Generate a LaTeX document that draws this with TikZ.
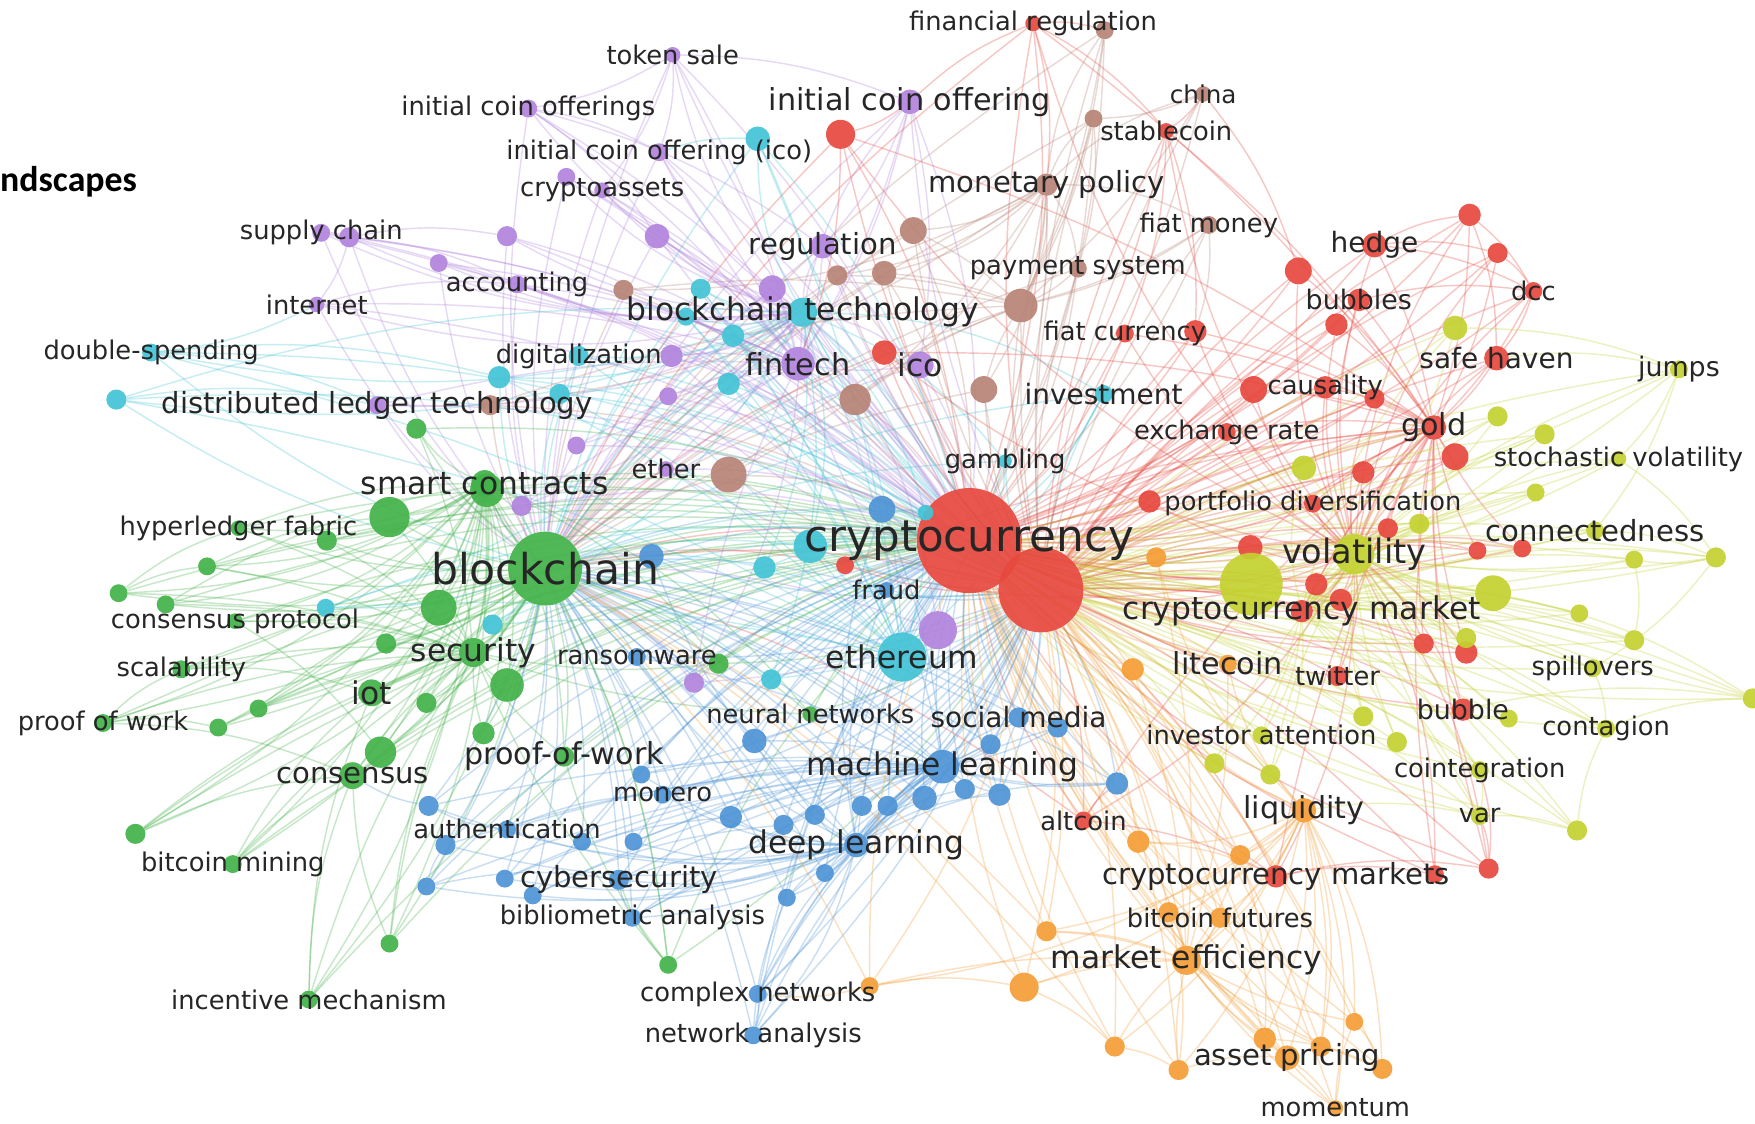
\documentclass[tikz,border=0pt]{standalone}
\usepackage{fontspec}
\setmainfont{DejaVu Sans}
\newfontfamily\headfont{Carlito}
\usetikzlibrary{positioning}
\pgfdeclarelayer{bg}
\pgfdeclarelayer{fg}
\pgfsetlayers{bg,main,fg}

\definecolor{cred}{RGB}{231,72,62}
\definecolor{cbrown}{RGB}{183,132,118}
\definecolor{cpurple}{RGB}{178,132,222}
\definecolor{ccyan}{RGB}{67,196,214}
\definecolor{cgreen}{RGB}{67,178,73}
\definecolor{cblue}{RGB}{78,148,214}
\definecolor{corange}{RGB}{245,158,54}
\definecolor{cyellow}{RGB}{196,210,48}

\tikzset{
  kw/.style={circle, fill=#1, draw=none, inner sep=0pt, opacity=0.92},
  lbl/.style={text=black!85, inner sep=0pt, font=\fontsize{#1}{#1}\selectfont},
  edge/.style={draw=#1, line width=1.3pt, opacity=0.3},
}

% cluster hubs
\def\hubA{crypto}\def\hubB{btc}\def\hubC{blockchain}
\def\hubcpurple{fintech}\def\hubccyan{ethereum}\def\hubcgreen{security}
\def\hubcblue{ml}\def\hubcred{gold}\def\hubcbrown{w6}
\def\hubcorange{mefficiency}\def\hubcyellow{volatility}
\def\subcpurple{bctech}\def\subccyan{bctech}\def\subcgreen{smartcontracts}
\def\subcblue{deeplearning}\def\subcred{volatility}\def\subcbrown{monetary}
\def\subcorange{liquidity}\def\subcyellow{cmarket}

\newcommand\hublinks[3]{%
  \edef\cur{#1}%
  \ifx\cur\hubA\else\draw[edge=#3] (#1) to[bend left=12] (crypto);\fi
  \ifdim #2pt>560pt \ifx\cur\hubB\else\draw[edge=#3] (#1) to[bend right=10] (btc);\fi\fi
  \ifdim #2pt<1000pt \ifx\cur\hubC\else\draw[edge=#3] (#1) to[bend right=10] (blockchain);\fi\fi
  \edef\hubD{\csname hub#3\endcsname}%
  \ifx\cur\hubD\else\draw[edge=#3] (#1) to[bend left=8] (\hubD);\fi
  \edef\hubE{\csname sub#3\endcsname}%
  \ifx\cur\hubE\else\draw[edge=#3] (#1) to[bend right=14] (\hubE);\fi}

% keywords: name/x/y/colour/size/label/font size
\def\kwlist{%
  tokensale/601/49/cpurple/14/token sale/23,
  icos/472/97/cpurple/16/initial coin offerings/23,
  ico1/813/91/cpurple/22/initial coin offering/27,
  icoico/589/136/cpurple/16/initial coin offering (ico)/23,
  cryptoassets/538/170/cpurple/14/cryptoassets/23,
  supplychain/287/208/cpurple/16/supply chain/23,
  accounting/462/254/cpurple/16/accounting/23,
  internet/283/272/cpurple/14/internet/23,
  regulation/735/220/cpurple/22/regulation/26,
  fintech/713/325/cpurple/30/fintech/27,
  ico/822/326/cpurple/24/ico/28,
  digitalization/517/318/ccyan/18/digitalization/23,
  ether/595/419/cpurple/14/ether/23,
  dlt/337/362/cpurple/16/distributed ledger technology/26,
  doublespend/135/315/ccyan/16/double-spending/23,
  bctech/717/279/ccyan/26/blockchain technology/28,
  ethereum/806/587/ccyan/44/ethereum/28,
  gambling/898/412/ccyan/12/gambling/23,
  investment/986/352/ccyan/16/investment/25,
  blockchain/487/508/cgreen/66/blockchain/38,
  smartcontracts/433/432/cgreen/24/smart contracts/28,
  hyperledger/213/472/cgreen/14/hyperledger fabric/23,
  consprotocol/210/555/cgreen/14/consensus protocol/23,
  security/423/583/cgreen/26/security/28,
  scalability/162/598/cgreen/16/scalability/23,
  iot/332/619/cgreen/24/iot/28,
  proofofwork/92/646/cgreen/16/proof of work/23,
  consensus/315/693/cgreen/24/consensus/26,
  pow/504/676/cgreen/18/proof-of-work/27,
  bitcoinmining/208/772/cgreen/16/bitcoin mining/23,
  incentive/276/893/cgreen/16/incentive mechanism/23,
  neural/724/638/cgreen/14/neural networks/23,
  ransomware/569/587/cblue/16/ransomware/23,
  ml/842/685/cblue/30/machine learning/28,
  socialmedia/910/641/cblue/18/social media/25,
  monero/592/710/cblue/16/monero/23,
  auth/453/741/cblue/16/authentication/23,
  deeplearning/765/755/cblue/22/deep learning/28,
  cyber/553/786/cblue/18/cybersecurity/26,
  biblio/565/820/cblue/16/bibliometric analysis/23,
  complexnet/677/888/cblue/16/complex networks/23,
  netanalysis/673/925/cblue/16/network analysis/23,
  fraud/792/527/cblue/14/fraud/23,
  crypto/866/483/cred/94/cryptocurrency/39,
  finreg/923/21/cred/14/financial regulation/23,
  stablecoin/1042/117/cred/14/stablecoin/23,
  hedge/1228/219/cred/22/hedge/25,
  bubbles/1214/268/cred/20/bubbles/24,
  dcc/1370/260/cred/16/dcc/23,
  fiatcurrency/1005/298/cred/16/fiat currency/23,
  safehaven/1337/320/cred/22/safe haven/25,
  causality/1184/346/cred/20/causality/23,
  exchangerate/1096/386/cred/16/exchange rate/23,
  gold/1281/382/cred/22/gold/27,
  portfolio/1173/450/cred/16/portfolio diversification/23,
  twitter/1195/604/cred/18/twitter/23,
  bubble/1307/634/cred/20/bubble/24,
  altcoin/968/733/cred/16/altcoin/23,
  cmarkets/1140/783/cred/20/cryptocurrency markets/26,
  cmarket/1163/546/cred/20/cryptocurrency market/28,
  china/1075/84/cbrown/14/china/22,
  monetary/935/165/cbrown/20/monetary policy/26,
  fiatmoney/1080/201/cbrown/16/fiat money/23,
  payment/963/240/cbrown/16/payment system/23,
  litecoin/1097/593/corange/16/litecoin/27,
  liquidity/1165/724/corange/22/liquidity/27,
  mefficiency/1060/858/corange/26/market efficiency/28,
  bfutures/1090/820/corange/18/bitcoin futures/23,
  assetpricing/1150/945/corange/22/asset pricing/26,
  momentum/1193/990/corange/14/momentum/23,
  volatility/1210/495/cyellow/36/volatility/30,
  stochvol/1446/410/cyellow/14/stochastic volatility/23,
  connectedness/1425/474/cyellow/16/connectedness/26,
  jumps/1500/330/cyellow/16/jumps/24,
  spillovers/1423/597/cyellow/16/spillovers/23,
  contagion/1435/651/cyellow/16/contagion/23,
  investorattn/1127/657/cyellow/16/investor attention/23,
  cointegration/1322/688/cyellow/16/cointegration/23,
  var/1322/729/cyellow/16/var/23}

% keywords whose labels are hidden: name/x/y/colour/size
\def\dotlist{%
  r1/751/120/cred/26, btc/930/527/cred/76, r2/790/315/cred/22, r3/1068/296/cred/20,
  r4/1160/242/cred/24, r5/1194/290/cred/20, r6/1313/192/cred/20, r7/1338/226/cred/18,
  r8/1120/348/cred/24, r9/1228/356/cred/18, r10/1027/448/cred/20, r11/1117/489/cred/22,
  r12/1176/522/cred/20, r13/1218/422/cred/20, r14/1300/408/cred/24, r15/1240/472/cred/18,
  r16/1320/492/cred/16, r17/1360/490/cred/16, r18/1272/575/cred/18, r19/1310/583/cred/20,
  r20/1330/776/cred/18, r21/1282/781/cred/16, r22/755/505/cred/16, r23/1198/536/cred/20,
  w1/987/27/cbrown/16, w2/977/106/cbrown/16, w3/816/206/cbrown/24, w4/790/244/cbrown/22,
  w5/748/246/cbrown/18, w6/912/273/cbrown/30, w7/764/357/cbrown/28, w8/879/348/cbrown/24,
  w9/438/362/cbrown/18, w10/651/424/cbrown/32, w11/557/259/cbrown/18,
  c1/104/357/ccyan/18, c2/677/124/ccyan/22, c3/626/258/ccyan/18, c4/655/300/ccyan/20,
  c5/651/343/ccyan/20, c6/446/337/ccyan/20, c7/500/352/ccyan/18, c8/683/507/ccyan/20,
  c9/724/488/ccyan/30, c10/440/558/ccyan/18, c11/291/543/ccyan/16, c12/689/607/ccyan/18,
  c13/827/458/ccyan/14, c14/613/283/ccyan/16,
  p1/453/211/cpurple/18, p2/392/235/cpurple/16, p3/587/211/cpurple/22, p4/506/158/cpurple/16,
  p5/690/258/cpurple/24, p6/597/354/cpurple/16, p7/515/398/cpurple/16, p8/466/452/cpurple/18,
  p9/620/610/cpurple/18, p10/838/563/cpurple/34, p11/600/318/cpurple/20, p12/312/212/cpurple/18,
  g1/372/383/cgreen/18, g2/348/462/cgreen/36, g3/292/483/cgreen/18, g4/185/506/cgreen/16,
  g5/106/530/cgreen/16, g6/148/540/cgreen/16, g7/392/543/cgreen/32, g8/345/575/cgreen/18,
  g9/381/628/cgreen/18, g10/432/655/cgreen/20, g11/453/612/cgreen/30, g12/231/633/cgreen/16,
  g13/195/650/cgreen/16, g14/121/745/cgreen/18, g15/348/843/cgreen/16, g16/597/862/cgreen/16,
  g17/642/593/cgreen/18, g18/435/438/cgreen/30, g19/340/672/cgreen/28,
  b1/383/720/cblue/18, b2/398/755/cblue/18, b3/381/792/cblue/16, b4/451/785/cblue/16,
  b5/476/800/cblue/16, b6/520/752/cblue/16, b7/566/752/cblue/16, b8/573/692/cblue/16,
  b9/653/730/cblue/20, b10/674/662/cblue/22, b11/700/737/cblue/18, b12/728/728/cblue/18,
  b13/770/720/cblue/18, b14/793/720/cblue/18, b15/826/713/cblue/22, b16/862/705/cblue/18,
  b17/893/710/cblue/20, b18/885/665/cblue/18, b19/945/650/cblue/18, b20/998/700/cblue/20,
  b21/703/802/cblue/16, b22/737/780/cblue/16, b23/788/455/cblue/24, b24/582/497/cblue/22,
  o1/1012/598/corange/20, o2/1033/498/corange/18, o3/1017/752/corange/20, o4/1108/764/corange/18,
  o5/1044/815/corange/18, o6/935/832/corange/18, o7/915/882/corange/26, o8/777/881/corange/16,
  o9/996/935/corange/18, o10/1053/956/corange/18, o11/1130/928/corange/20, o12/1180/935/corange/18,
  o13/1210/913/corange/16, o14/1235/955/corange/18,
  y1/1300/293/cyellow/22, y2/1165/418/cyellow/22, y3/1338/372/cyellow/18, y4/1380/388/cyellow/18,
  y5/1334/530/cyellow/32, y6/1310/570/cyellow/18, y7/1372/440/cyellow/16, y8/1460/500/cyellow/16,
  y9/1533/498/cyellow/18, y10/1411/548/cyellow/16, y11/1460/572/cyellow/18, y12/1218/640/cyellow/18,
  y13/1248/663/cyellow/18, y14/1348/642/cyellow/16, y15/1135/692/cyellow/18, y16/1085/682/cyellow/18,
  y17/1409/742/cyellow/18, y18/1566/624/cyellow/18, y19/1118/522/cyellow/56, y20/1268/468/cyellow/18}

\begin{document}
\begin{tikzpicture}[x=1pt, y=-1pt]
  \useasboundingbox (0,0) rectangle (1568,1004);

  % circles
  \foreach \nm/\px/\py/\col/\dm/\txt/\fs in \kwlist
    \node[kw=\col, minimum size=\dm] (\nm) at (\px,\py) {};
  \foreach \nm/\px/\py/\col/\dm in \dotlist
    \node[kw=\col, minimum size=\dm] (\nm) at (\px,\py) {};

  % links
  \begin{pgfonlayer}{bg}
    \fill[white] (0,0) rectangle (1568,1004);
    \foreach \nm/\px/\py/\col/\dm/\txt/\fs in \kwlist {\hublinks{\nm}{\px}{\col}}
    \foreach \nm/\px/\py/\col/\dm in \dotlist {\hublinks{\nm}{\px}{\col}}
    \foreach \a/\b/\col in {
      tokensale/icos/cpurple, tokensale/icoico/cpurple, tokensale/cryptoassets/cpurple,
      tokensale/ico1/cpurple, icos/icoico/cpurple, icos/p3/cpurple, icos/regulation/cpurple,
      ico1/finreg/cred, ico1/r1/cred, ico1/regulation/cpurple, ico1/ico/cpurple,
      ico1/fintech/cpurple, icoico/c2/ccyan, r1/fintech/cred,
      supplychain/p12/cpurple, p12/p1/cpurple, p12/internet/cpurple, p12/accounting/cpurple,
      internet/accounting/cpurple, internet/doublespend/ccyan, doublespend/dlt/ccyan,
      c1/dlt/ccyan, c1/bctech/ccyan, doublespend/c6/ccyan,
      finreg/stablecoin/cred, finreg/w1/cred, finreg/monetary/cred, china/stablecoin/cred,
      china/w2/cbrown, china/r4/cred, w1/w6/cbrown, stablecoin/fiatcurrency/cred,
      stablecoin/r3/cred, w2/payment/cbrown, fiatmoney/w6/cbrown, fiatmoney/r3/cbrown,
      hedge/r6/cred, hedge/r7/cred, r6/dcc/cred, r7/dcc/cred, r6/safehaven/cred,
      dcc/safehaven/cred, hedge/dcc/cred, bubbles/dcc/cred, safehaven/jumps/cyellow,
      y1/jumps/cyellow, jumps/stochvol/cyellow, jumps/connectedness/cyellow,
      stochvol/y9/cyellow, connectedness/y9/cyellow, y9/y8/cyellow, y9/spillovers/cyellow,
      y8/y11/cyellow, spillovers/contagion/cyellow, contagion/y18/cyellow,
      y17/contagion/cyellow, bubble/y18/cyellow, y5/y18/cyellow, cointegration/var/cyellow,
      var/y17/cyellow, liquidity/var/cyellow, cointegration/r20/cred, var/r20/cred,
      cmarkets/r20/cred, cmarkets/r21/cred,
      mefficiency/assetpricing/corange, assetpricing/momentum/corange, momentum/o13/corange,
      o13/o14/corange, o11/o14/corange, o9/o10/corange, o10/assetpricing/corange,
      o7/o9/corange, o8/o7/corange, bfutures/mefficiency/corange, altcoin/cmarkets/cred,
      o3/cmarkets/corange, o6/mefficiency/corange, liquidity/o12/corange, o4/o11/corange,
      o5/o10/corange, o8/complexnet/corange,
      bitcoinmining/consensus/cgreen, g14/consensus/cgreen, g14/security/cgreen,
      bitcoinmining/iot/cgreen, incentive/consensus/cgreen, incentive/iot/cgreen,
      g15/consensus/cgreen, g15/security/cgreen, g16/cyber/cgreen, g16/pow/cgreen,
      proofofwork/scalability/cgreen, proofofwork/g13/cgreen, proofofwork/consensus/cgreen,
      g5/hyperledger/cgreen, g5/g4/cgreen, g6/smartcontracts/cgreen,
      hyperledger/smartcontracts/cgreen, consprotocol/g19/cgreen, scalability/iot/cgreen,
      g12/g7/cgreen, g4/g2/cgreen,
      complexnet/netanalysis/cblue, complexnet/ml/cblue, complexnet/deeplearning/cblue,
      netanalysis/deeplearning/cblue, netanalysis/b21/cblue, biblio/cyber/cblue,
      biblio/deeplearning/cblue, auth/b1/cblue, b1/consensus/cblue, b3/b2/cblue,
      b3/cyber/cblue, auth/monero/cblue, cyber/deeplearning/cblue, b4/b9/cblue,
      b5/b11/cblue, monero/ml/cblue, b20/ml/cblue, b17/socialmedia/cblue, altcoin/b20/cred}
      \draw[edge=\col] (\a) to[bend left=10] (\b);
  \end{pgfonlayer}

  % labels
  \begin{pgfonlayer}{fg}
    \foreach \nm/\px/\py/\col/\dm/\txt/\fs in \kwlist
      \node[lbl=\fs] (t-\nm) at (\nm) {\txt};
    \node[anchor=west, inner sep=0pt, font=\headfont\bfseries\fontsize{32}{32}\selectfont]
      (head) at (0,162) {ndscapes};
  \end{pgfonlayer}
\end{tikzpicture}
\end{document}
